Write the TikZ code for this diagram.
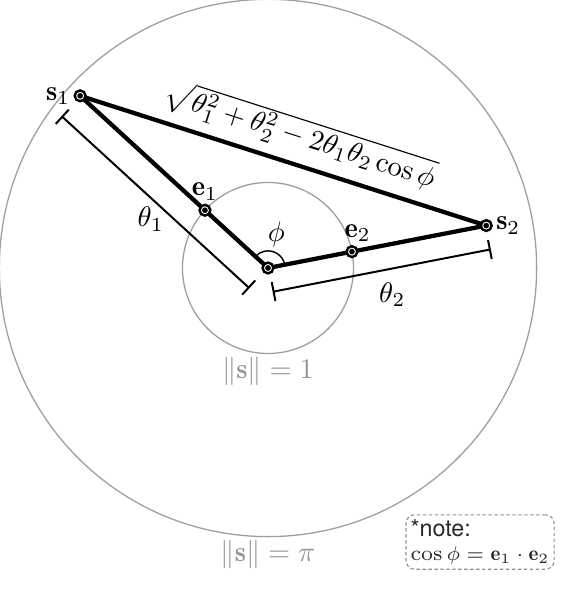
\documentclass[tikz,border=0pt]{standalone}
\usepackage{amsmath}
\usepackage{tikz}
\usetikzlibrary{calc}
\usetikzlibrary{arrows}
\usepackage{fontspec}
\newfontfamily\notefont{TeX Gyre Heros}
\usepackage{color}
\definecolor{ringgray}{RGB}{158, 158, 158}
\definecolor{labelgray}{RGB}{150, 150, 150}
\definecolor{notegray}{RGB}{145, 145, 145}
\definecolor{notetext}{RGB}{40, 40, 40}

\begin{document}
\begin{tikzpicture}[x=1.058cm, y=1.058cm,
        ring/.style      = {color=ringgray, line width=0.45pt},
        edgeline/.style  = {line width=1.5pt, line cap=round, line join=round},
        dimline/.style   = {line width=0.7pt, |-|},
        dotring/.style   = {fill=white, draw=black, line width=0.85pt},
        normlabel/.style = {color=labelgray, anchor=north, inner sep=1pt},
        notebox/.style   = {draw=notegray, dash pattern=on 1.2pt off 0.9pt, rounded corners=3pt,
                            inner sep=1.6pt, align=left, font=\fontsize{7.4}{8.6}\selectfont,
                            text=notetext}]
        \useasboundingbox (-3.134,-3.953) rectangle (3.532,3.134);
        % points on the geodesics
        \coordinate (o)  at (  0.0:0.00);
        \coordinate (e1) at (137.5:1.00);
        \coordinate (s1) at (137.5:2.98);
        \coordinate (e2) at ( 11.0:1.00);
        \coordinate (s2) at ( 11.0:2.60);
        % spheres
        \draw[ring]  (o) circle (1);
        \draw[ring]  (o) circle (3.1416);
        \node[normlabel] (unitlab) at (0,-1.0000) {$\|\mathbf{s}\| = 1$};
        \node[normlabel] (pilab)   at (0,-3.1416) {$\|\mathbf{s}\| = \pi$};
        % geodesics
        \draw[edgeline] (s1) -- (o) -- (s2);
        \draw[edgeline] (s1) -- node[pos=0.52, above, sloped] (dist)
             {$\sqrt{\theta_1^2+\theta_2^2-2\theta_1\theta_2\cos\phi}$} (s2);
        % lengths
        \coordinate (t1a) at ($(o)!3.4mm!90:(s1)$);
        \coordinate (t1b) at ($(s1)!3.4mm!-90:(o)$);
        \coordinate (t2a) at ($(o)!3.0mm!-90:(s2)$);
        \coordinate (t2b) at ($(s2)!3.0mm!90:(o)$);
        \draw[dimline] (t1b) -- node[midway, shift={(-0.055,-0.20)}] (th1) {$\theta_1$} (t1a);
        \draw[dimline] (t2a) -- node[midway, below=0.5pt, xshift=0.13cm] (th2) {$\theta_2$} (t2b);
        % angle
        \draw[line width=0.5pt] ($(o)+(11:0.2)$) arc (11:137.5:0.2);
        \node (phi) at (76:0.40) {$\phi$};
        % dots
        \foreach \p in {o, e1, e2, s1, s2} {
            \filldraw[dotring] (\p) circle (1.9pt);
            \fill            (\p) circle (1.0pt);
        }
        \node[left]              (s1lab) at (s1) {$\mathbf{s}_1$};
        \node[right]             (s2lab) at (s2) {$\mathbf{s}_2$};
        \node[above]             (e1lab) at (e1) {$\mathbf{e}_1$};
        \node[above, xshift=2pt] (e2lab) at (e2) {$\mathbf{e}_2$};
        % note
        \node[notebox] (note) at (2.48,-3.205)
             {{\notefont\fontsize{8.2}{8.6}\selectfont *note:}\\ $\cos\phi = \mathbf{e}_1\cdot\mathbf{e}_2$};
\end{tikzpicture}
\end{document}
